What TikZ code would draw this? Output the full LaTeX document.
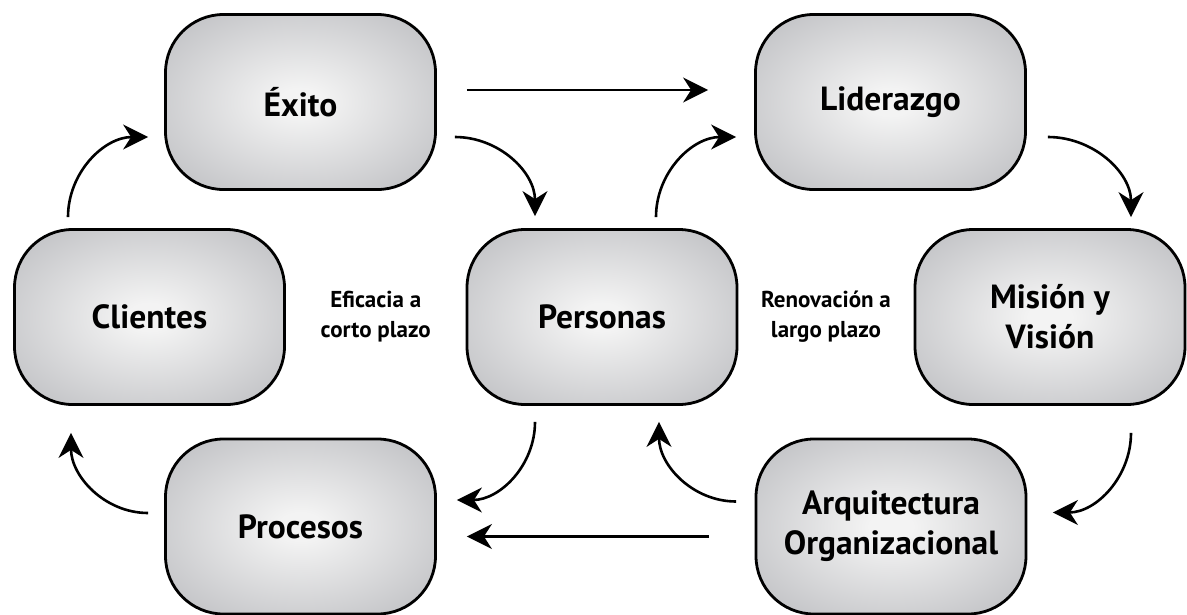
\documentclass[tikz,border=0pt]{standalone}
\usepackage{fontspec}
\setmainfont{PT Sans}
\usetikzlibrary{positioning, arrows.meta, calc}

\definecolor{cajaclaro}{RGB}{243,243,243}
\definecolor{cajaoscuro}{RGB}{180,181,185}
\pgfdeclareradialshading{cajaluz}{\pgfpoint{0bp}{0bp}}{color(0bp)=(cajaclaro); color(4bp)=(cajaclaro); color(40bp)=(cajaoscuro); color(50bp)=(cajaoscuro)}

\begin{document}
\begin{tikzpicture}[x=1pt, y=1pt, on grid,
  box node/.style={rectangle, rounded corners=58pt, draw, line width=2.8pt,
    minimum width=270pt, minimum height=175pt, shading=cajaluz, align=center,
    font=\fontsize{33.5}{40}\selectfont\bfseries},
  nota/.style={align=center, font=\fontsize{23}{30}\selectfont\bfseries},
  flecha/.style={line width=2.6pt, -{Stealth[length=25pt, width=25pt, inset=8pt]}}]

\useasboundingbox (0,0) rectangle (1187,-614);

\node[box node] (personas) at (602,-317) {Personas};
\node[box node] (exito) [above left=215pt and 301.5pt of personas] {Éxito};
\node[box node] (liderazgo) [above right=215pt and 288.5pt of personas] {Liderazgo};
\node[box node] (clientes) [left=452.5pt of personas] {Clientes};
\node[box node] (mision) [right=448pt of personas] {Misión y\\Visión};
\node[box node] (procesos) [below left=209.5pt and 301.5pt of personas] {Procesos};
\node[box node] (arquitectura) [below right=209.5pt and 289pt of personas] {Arquitectura\\Organizacional};

\node[nota] (eficacia) at ($(clientes.east)!0.5!(personas.west)$) {Eficacia a\\corto plazo};
\node[nota] (renovacion) at ($(personas.east)!0.5!(mision.west)$) {Renovación a\\largo plazo};

\draw[flecha] ([xshift=30pt, yshift=12pt]exito.east) -- ([xshift=-46pt, yshift=12pt]liderazgo.west);
\draw[flecha] ([xshift=-45.5pt, yshift=-10pt]arquitectura.west) -- ([xshift=30pt, yshift=-10pt]procesos.east);

\path[flecha]
([xshift=18pt, yshift=-35pt]exito.east) edge[out=0, in=90] ([xshift=-67pt, yshift=12pt]personas.north)
([xshift=54pt, yshift=11pt]personas.north) edge[out=90, in=180] ([xshift=-18pt, yshift=-35pt]liderazgo.west)
([xshift=21pt, yshift=-35pt]liderazgo.east) edge[out=0, in=90] ([xshift=81pt, yshift=11pt]mision.north)
([xshift=-81.5pt, yshift=11pt]clientes.north) edge[out=90, in=180] ([xshift=-16pt, yshift=-35pt]exito.west)
([xshift=81pt, yshift=-27pt]mision.south) edge[out=-90, in=0] ([xshift=25.5pt, yshift=14pt]arquitectura.east)
([xshift=-18.5pt, yshift=25pt]arquitectura.west) edge[out=180, in=-90] ([xshift=57pt, yshift=-16pt]personas.south)
([xshift=-67pt, yshift=-16pt]personas.south) edge[out=-90, in=0] ([xshift=20pt, yshift=26.5pt]procesos.east)
([xshift=-16pt, yshift=13.5pt]procesos.west) edge[out=180, in=-90] ([xshift=-78.5pt, yshift=-27pt]clientes.south)
;
\end{tikzpicture}
\end{document}
